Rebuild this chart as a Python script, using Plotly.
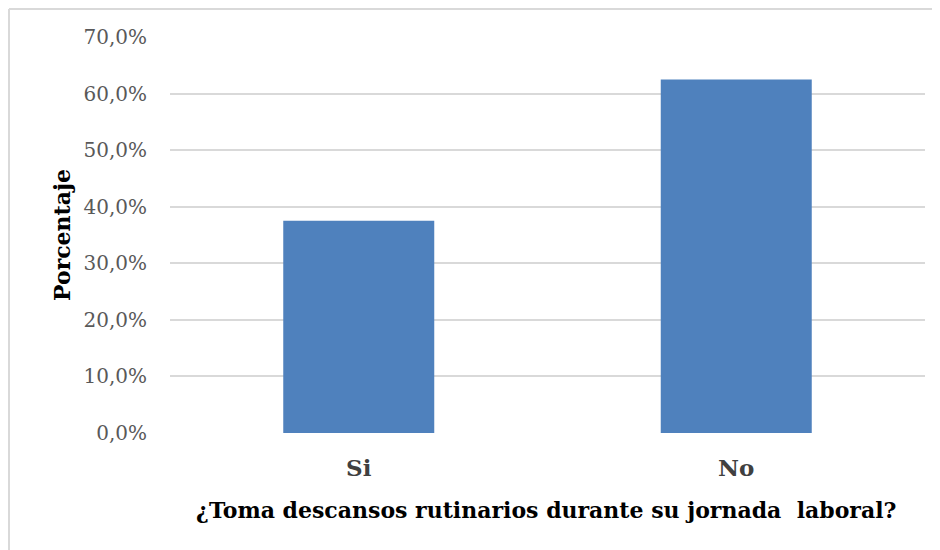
import plotly.graph_objects as go

categories = ["Si", "No"]
values = [37.5, 62.5]
tick_vals = [0, 10, 20, 30, 40, 50, 60, 70]
tick_text = ["0,0%", "10,0%", "20,0%", "30,0%", "40,0%", "50,0%", "60,0%", "70,0%"]

fig = go.Figure(go.Bar(x=categories, y=values, marker=dict(color="#4F81BD", line=dict(width=0)),
                       hoverinfo="skip"))

W, H = 940, 550
OFF = 8  # default page body margin
# target window pixel positions of plot area
WL, WR, WT, WB = 170, 925, 37, 433
L = WL - OFF
T = WT - OFF
R = W - (WR - OFF)
B = H - (WB - OFF)
pw, ph = W - L - R, H - T - B

def px_x(x):
    return (x - OFF - L) / pw

def px_y(y):
    return (H - B - (y - OFF)) / ph

fig.update_layout(
    width=W, height=H,
    margin=dict(l=L, r=R, t=T, b=B),
    paper_bgcolor="white", plot_bgcolor="white",
    bargap=0.6,
    showlegend=False,
    xaxis=dict(range=[-0.5, 1.5], showgrid=False, zeroline=False, showline=False,
               ticks="", tickfont=dict(family="DejaVu Serif", size=23, color="#404040", weight="bold"),
               ticklabelstandoff=19),
    yaxis=dict(range=[0, 70], tickvals=tick_vals, ticktext=tick_text,
               showgrid=True, gridcolor="#D9D9D9", gridwidth=2, zeroline=False,
               showline=False, ticks="", ticklabelstandoff=22,
               tickfont=dict(family="DejaVu Serif", size=20, color="#595959")),
    font=dict(family="DejaVu Serif"),
    shapes=[
        dict(type="line", xref="paper", yref="paper", x0=px_x(9), x1=px_x(960),
             y0=px_y(9), y1=px_y(9), line=dict(color="#D9D9D9", width=2)),
        dict(type="line", xref="paper", yref="paper", x0=px_x(9), x1=px_x(9),
             y0=px_y(9), y1=px_y(570), line=dict(color="#D9D9D9", width=2)),
    ],
    annotations=[
        dict(text="<b>Porcentaje</b>", xref="paper", yref="paper", x=px_x(62), y=px_y(235),
             textangle=-90, showarrow=False, xanchor="center", yanchor="middle",
             font=dict(family="DejaVu Serif", size=22, color="black")),
        dict(text="<b>¿Toma descansos rutinarios durante su jornada  laboral?</b>", xref="paper", yref="paper",
             x=px_x(546), y=px_y(510), showarrow=False, xanchor="center", yanchor="middle",
             font=dict(family="DejaVu Serif", size=22, color="black")),
    ],
)
fig.write_html("out.html")
